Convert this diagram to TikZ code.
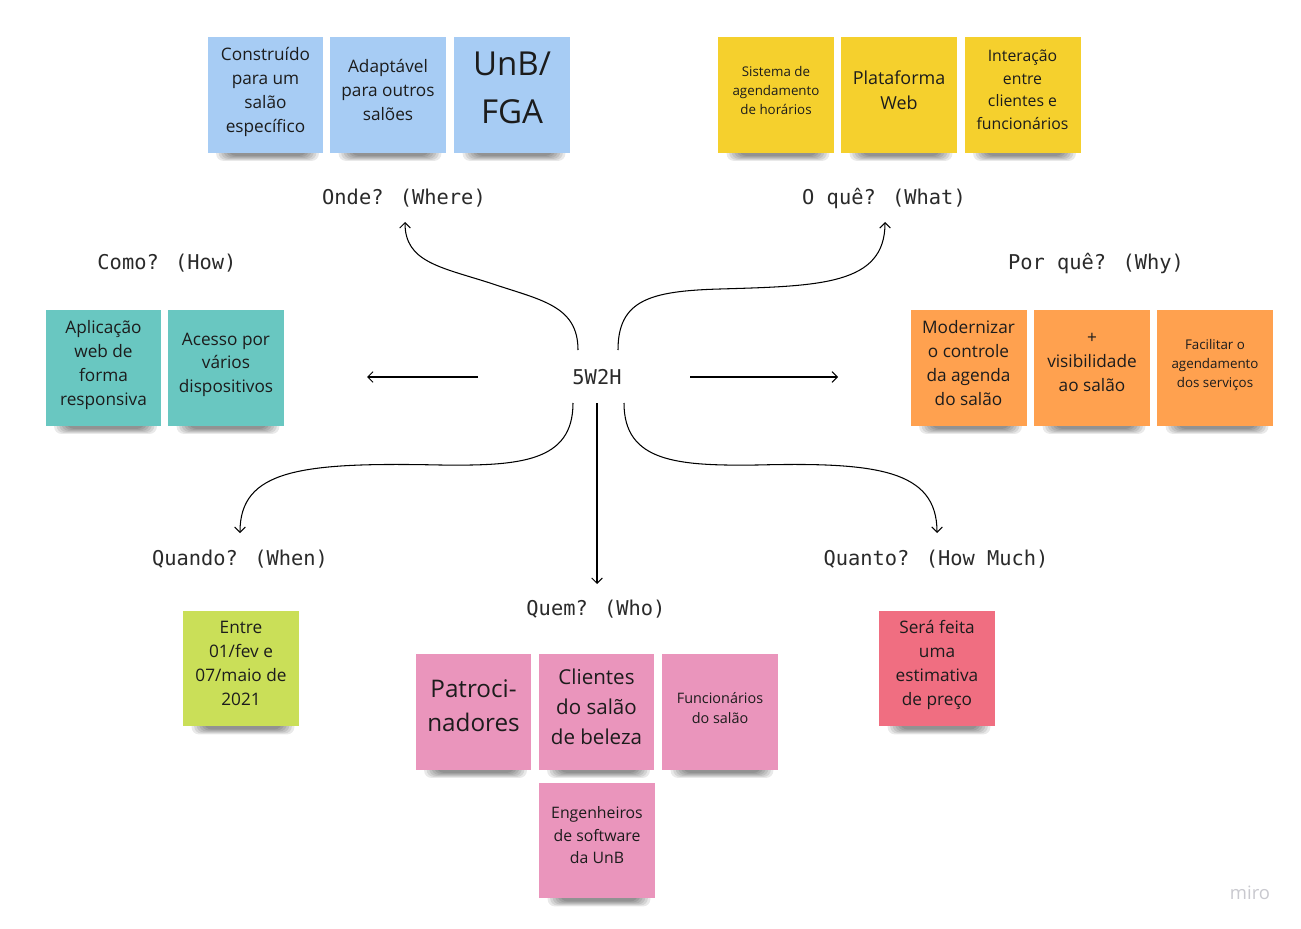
\documentclass[tikz,border=0pt]{standalone}
\usepackage{fontspec}
\setmainfont{Open Sans}
\newfontfamily\monof{DejaVu Sans Mono}
\usetikzlibrary{arrows.meta,calc}
\pgfdeclarelayer{bg}
\pgfdeclarelayer{shadow}
\pgfsetlayers{bg,shadow,main}
\definecolor{sblue}{HTML}{A7CCF4}
\definecolor{syellow}{HTML}{F5D02D}
\definecolor{steal}{HTML}{69C7C1}
\definecolor{sorange}{HTML}{FFA14F}
\definecolor{sgreen}{HTML}{CADF58}
\definecolor{sred}{HTML}{F06E81}
\definecolor{spink}{HTML}{EA95BC}
\definecolor{txt}{HTML}{1C1C1C}
\definecolor{lbltxt}{HTML}{2A2A2A}
\definecolor{miroc}{HTML}{C9C9CF}
\newcommand\stshadow[1]{%
  \foreach \i in {0,...,5}{%
    \fill[black, opacity=0.085, rounded corners=4]
      ($(#1.south west)+(9+2.5*\i,-14)$) rectangle ($(#1.south east)+(-5-2.5*\i,7.5-\i)$);
  }%
}
\begin{document}
\begin{tikzpicture}[x=0.02cm,y=-0.02cm,
  sticky/.style={minimum width=2.32cm, minimum height=2.32cm, inner sep=0pt, align=center, text=txt, text depth=6pt},
  fs/.style={font=\fontsize{9.8}{13.6}\selectfont},
  fsmall/.style={font=\fontsize{7.6}{10.8}\selectfont},
  lbl/.style={font=\monof\fontsize{11.6}{14}\selectfont, text=lbltxt, inner sep=0pt},
  arr/.style={line width=0.6pt, -{Straight Barb[length=3pt,width=6pt]}}
]
\begin{pgfonlayer}{bg}
\fill[white] (0,0) rectangle (1301,929);
\end{pgfonlayer}
\useasboundingbox (0,0) rectangle (1301,929);

% ---------- labels ----------
\node[lbl] (c) at (597,377) {5W2H};
\node[lbl] (onde) at (404,198) {Onde? (Where)};
\node[lbl] (oque) at (884,198) {O quê? (What)};
\node[lbl] (como) at (167,263) {Como? (How)};
\node[lbl] (porque) at (1096,263) {Por quê? (Why)};
\node[lbl] (quando) at (240,559) {Quando? (When)};
\node[lbl] (quem) at (596,609) {Quem? (Who)};
\node[lbl] (quanto) at (936,559) {Quanto? (How Much)};

% ---------- Onde (blue) ----------
\node[sticky, fill=sblue, fs] (b1) at (265.5,95) {Construído\\para um\\salão\\específico};
\node[sticky, fill=sblue, fs] (b2) at (388,95) {Adaptável\\para outros\\salões};
\node[sticky, fill=sblue, font=\fontsize{18.8}{27.2}\selectfont, text depth=8pt] (b3) at (512,95) {UnB/\\FGA};

% ---------- O que (yellow) ----------
\node[sticky, fill=syellow, fsmall, text depth=5pt] (y1) at (776,95) {Sistema de\\agendamento\\de horários};
\node[sticky, fill=syellow, font=\fontsize{10.2}{14.2}\selectfont] (y2) at (899,95) {Plataforma\\Web};
\node[sticky, fill=syellow, font=\fontsize{9}{13}\selectfont] (y3) at (1022.5,95) {Interação\\entre\\clientes e\\funcionários};

% ---------- Como (teal) ----------
\node[sticky, fill=steal, fs] (t1) at (103.5,368) {Aplicação\\web de\\forma\\responsiva};
\node[sticky, fill=steal, fs] (t2) at (226,368) {Acesso por\\vários\\dispositivos};

% ---------- Por que (orange) ----------
\node[sticky, fill=sorange, fs] (o1) at (968.5,368) {Modernizar\\o controle\\da agenda\\do salão};
\node[sticky, fill=sorange, fs] (o2) at (1092,368) {+\\visibilidade\\ao salão};
\node[sticky, fill=sorange, fsmall, text depth=5pt] (o3) at (1215,368) {Facilitar o\\agendamento\\dos serviços};

% ---------- Quando (green) ----------
\node[sticky, fill=sgreen, fs] (g1) at (241,668.5) {Entre\\01/fev e\\07/maio de\\2021};

% ---------- Quanto (red) ----------
\node[sticky, fill=sred, fs] (r1) at (937,668.5) {Será feita\\uma\\estimativa\\de preço};

% ---------- Quem (pink) ----------
\node[sticky, fill=spink, font=\fontsize{13.8}{19.3}\selectfont, text depth=7pt] (p1) at (473.5,712) {Patroci-\\nadores};
\node[sticky, fill=spink, font=\fontsize{11.7}{17}\selectfont] (p2) at (596.5,712) {Clientes\\do salão\\de beleza};
\node[sticky, fill=spink, font=\fontsize{8.2}{11.3}\selectfont, text depth=5pt] (p3) at (720,712) {Funcionários\\do salão};
\node[sticky, fill=spink, font=\fontsize{9}{12.8}\selectfont] (p4) at (597,840.5) {Engenheiros\\de software\\da UnB};

% ---------- shadows ----------
\begin{pgfonlayer}{shadow}
\foreach \n in {b1,b2,b3,y1,y2,y3,t1,t2,o1,o2,o3,g1,r1,p1,p2,p3,p4}{\stshadow{\n}}
\end{pgfonlayer}

% ---------- free ends ----------
\coordinate (lend) at ($(c)+(-230,0)$);
\coordinate (rend) at ($(c)+(241,0)$);

% ---------- connectors ----------
\draw[arr] ($(c)+(-19,-27)$) .. controls ($(c)+(-19,-72)$) and ($(c)+(-57,-77)$) .. ($(c)+(-107,-94)$)
  .. controls ($(onde)+(36,69)$) and ($(onde)+(1,64)$) .. ($(onde)+(1,24)$);
\draw[arr] ($(c)+(21,-27)$) .. controls ($(c)+(21,-77)$) and ($(c)+(53,-86)$) .. ($(c)+(123,-88)$)
  .. controls ($(oque)+(-64,88)$) and ($(oque)+(1,87)$) .. ($(oque)+(1,24)$);
\draw[arr] ($(c)+(-119,0)$) -- (lend);
\draw[arr] ($(c)+(93,0)$) -- (rend);
\draw[arr] ($(c)+(0,26)$) -- ($(quem)+(1,-25)$);
\draw[arr] ($(c)+(-24,26)$) .. controls ($(c)+(-24,85)$) and ($(c)+(-77,89)$) .. ($(c)+(-157,88)$)
  .. controls ($(quando)+(60,-97)$) and ($(quando)+(0,-89)$) .. ($(quando)+(0,-26)$);
\draw[arr] ($(c)+(27,26)$) .. controls ($(c)+(27,85)$) and ($(c)+(80,89)$) .. ($(c)+(160,88)$)
  .. controls ($(quanto)+(-59,-97)$) and ($(quanto)+(1,-89)$) .. ($(quanto)+(1,-26)$);

% ---------- watermark ----------
\node[text=miroc, font=\fontsize{10.5}{12}\selectfont, inner sep=0pt] (miro) at (1250,893) {miro};
\end{tikzpicture}
\end{document}
